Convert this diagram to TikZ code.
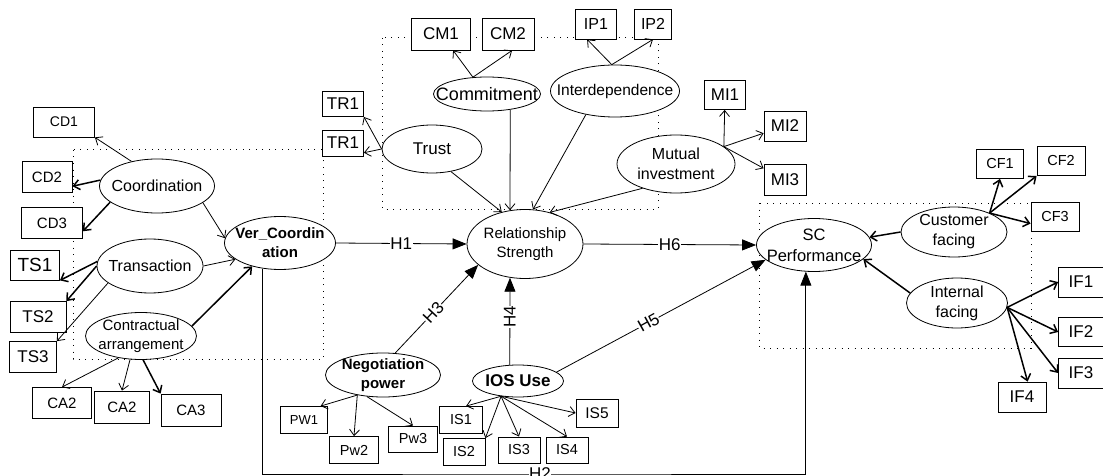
\documentclass[tikz,border=0pt]{standalone}
\usepackage{fontspec}
\setmainfont{Liberation Sans}
\usepackage{tikz}
\usetikzlibrary{shapes.geometric,arrows.meta}
\tikzset{every picture/.style={line width=0.8pt}}
\tikzset{
    fs/.style={font=\fontsize{#1}{#1}\selectfont},
    latent/.style={draw, ellipse, fill=white, inner sep=-16pt, align=center, font=\fontsize{16}{20}\selectfont},
    boldlatent/.style={latent, font=\fontsize{15}{19}\selectfont\bfseries},
    item/.style 2 args={draw, rectangle, fill=white, inner sep=0pt, minimum width=#1pt, minimum height=#2pt, fs=15},
    load/.style={-{Straight Barb[length=6pt,width=10pt]}},
    heavy/.style={line width=1.5pt},
    hyp/.style={-{Triangle[length=14pt,width=11pt]}},
    hlab/.style={fill=white, inner sep=0.4pt, fs=17},
    group/.style={line width=1pt, dash pattern=on 1pt off 5.5pt}
}

\begin{document}
\begin{tikzpicture}[x=1pt,y=1pt,yscale=-1]
    \useasboundingbox (0,0) rectangle (1103,476);
    \draw [group] (73,150) rectangle (323,359);
    \draw [group] (382,38) rectangle (658,209);
    \draw [group] (759,203) rectangle (1031,348);

    \node [latent, minimum width=115pt, minimum height=54pt] (crd) at (157,186) {Coordination};
    \node [latent, minimum width=106pt, minimum height=54pt] (trn) at (150,266) {Transaction};
    \node [latent, font=\fontsize{15}{19}\selectfont, minimum width=111pt, minimum height=47pt] (ctr) at (141,336) {Contractual\\arrangement};
    \node [boldlatent, minimum width=111pt, minimum height=53pt] (ver) at (280,243) {Ver\_Coordin\\ation};
    \node [latent, font=\fontsize{17}{20}\selectfont, minimum width=100pt, minimum height=48pt] (tru) at (432,149) {Trust};
    \node [latent, font=\fontsize{18}{20}\selectfont, minimum width=107pt, minimum height=34pt] (cmt) at (487,94) {Commitment};
    \node [latent, font=\fontsize{15.5}{20}\selectfont, minimum width=129pt, minimum height=52pt] (idp) at (615,91) {Interdependence};
    \node [latent, minimum width=118pt, minimum height=58pt] (mi) at (676,164) {Mutual\\investment};
    \node [latent, font=\fontsize{15}{19}\selectfont, minimum width=116pt, minimum height=69pt] (rs) at (525,244) {Relationship\\Strength};
    \node [boldlatent, minimum width=115pt, minimum height=44pt] (ngp) at (383,375) {Negotiation\\power};
    \node [latent, font=\fontsize{17}{19}\selectfont\bfseries, minimum width=91pt, minimum height=32pt] (ios) at (518,381) {IOS Use};
    \node [latent, font=\fontsize{16.5}{21}\selectfont, minimum width=115pt, minimum height=53pt] (sc) at (814,245) {SC\\Performance};
    \node [latent, minimum width=106pt, minimum height=50pt] (cfc) at (954,232) {Customer\\facing};
    \node [latent, minimum width=101pt, minimum height=50pt] (ift) at (957,303) {Internal\\facing};

    \node [item={61}{30}, fs=14] (cd1) at (64,122) {CD1};
    \node [item={50}{31}] (cd2) at (47,177) {CD2};
    \node [item={61}{31}] (cd3) at (52,223) {CD3};
    \node [item={49}{30}, fs=19] (ts1) at (35,265) {TS1};
    \node [item={56}{31}, fs=17] (ts2) at (38,317) {TS2};
    \node [item={47}{31}, fs=17] (ts3) at (33,357) {TS3};
    \node [item={59}{31}] (ca1) at (62,403) {CA2};
    \node [item={55}{32}] (ca2) at (122,407) {CA2};
    \node [item={60}{32}] (ca3) at (191,410) {CA3};
    \node [item={47}{27}, fs=13] (pw1) at (304,420) {PW1};
    \node [item={49}{27}, fs=14.5] (pw2) at (354,450) {Pw2};
    \node [item={49}{26}, fs=14.5] (pw3) at (413,439) {Pw3};
    \node [item={43}{27}, fs=14.5] (is1) at (461,420) {IS1};
    \node [item={42}{27}, fs=14.5] (is2) at (464,452) {IS2};
    \node [item={42}{26}, fs=14.5] (is3) at (519,450) {IS3};
    \node [item={42}{26}, fs=14.5] (is4) at (567,450) {IS4};
    \node [item={42}{28}, fs=15.5] (is5) at (597,413) {IS5};
    \node [item={41}{25}, fs=17] (tr1a) at (343,104) {TR1};
    \node [item={41}{26}, fs=17] (tr1b) at (343,143) {TR1};
    \node [item={59}{32}, fs=17] (cm1) at (441,34) {CM1};
    \node [item={52}{32}, fs=17] (cm2) at (508,34) {CM2};
    \node [item={41}{30}, fs=16] (ip1) at (596,24) {IP1};
    \node [item={37}{30}, fs=16] (ip2) at (653,24) {IP2};
    \node [item={41}{29}, fs=17] (mi1) at (725,95) {MI1};
    \node [item={42}{30}, fs=17] (mi2) at (785,126) {MI2};
    \node [item={42}{31}, fs=17] (mi3) at (785,180) {MI3};
    \node [item={47}{29}, fs=14.5] (cf1) at (1000,164) {CF1};
    \node [item={48}{29}, fs=14.5] (cf2) at (1061,161) {CF2};
    \node [item={48}{29}, fs=14.5] (cf3) at (1055,217) {CF3};
    \node [item={45}{30}, fs=17] (if1) at (1081,282) {IF1};
    \node [item={45}{29}, fs=17] (if2) at (1081,332) {IF2};
    \node [item={45}{30}, fs=17] (if3) at (1081,373) {IF3};
    \node [item={48}{30}, fs=17] (if4) at (1022,397) {IF4};

    \draw [load] (crd.136) -- (cd1.south east);
    \draw [load, heavy] (crd.174) -- (cd2.-20);
    \draw [load, heavy] (crd.199) -- (cd3.-15);
    \draw [load] (crd.-20) -- (ver.175);
    \draw [load, heavy] (trn.175) -- (ts1.south east);
    \draw [load, heavy] (trn.180) -- (ts2.north east);
    \draw [load] (trn.202) -- (ts3.north east);
    \draw [load] (trn.east) -- (ver.200);
    \draw [load, heavy] (ctr.11) -- (ver.220);
    \draw [load] (ctr.224) -- (ca1.north);
    \draw [load] (ctr.245) -- (ca2.north);
    \draw [load, heavy] (ctr.275) -- (ca3.north west);

    \draw [load] (tru.west) -- (tr1a.south east);
    \draw [load] (tru.west) -- (tr1b.-25);
    \draw [load] (cmt.130) -- (cm1);
    \draw [load] (cmt.130) -- (cm2.-76);
    \draw [load] (idp.97) -- (ip1.-120);
    \draw [load] (idp.97) -- (ip2.south);
    \draw [load] (mi.20) -- (mi1);
    \draw [load] (mi.20) -- (mi2);
    \draw [load] (mi.20) -- (mi3);
    \draw [load] (tru.-50) -- (rs.126);
    \draw [load] (cmt.-34) -- (rs.114);
    \draw [load] (idp.219) -- (rs.77);
    \draw [load] (mi.216) -- (rs.52);

    \draw [load] (ngp.218) -- (pw1.40);
    \draw [load] (ngp.218) -- (pw2.north);
    \draw [load] (ngp.233) -- (pw3.north);
    \draw [load] (ios.222) -- (is1.70);
    \draw [load] (ios.222) -- (is2.north east);
    \draw [load] (ios.222) -- (is3.north);
    \draw [load] (ios.222) -- (is4.north);
    \draw [load] (ios.222) -- (is5.west);

    \draw [load, heavy] (cfc.west) -- (sc.8);
    \draw [load, heavy] (cfc.28) -- (cf1.south);
    \draw [load, heavy] (cfc.28) -- (cf2.south west);
    \draw [load, heavy] (cfc.28) -- (cf3.195);
    \draw [load, heavy] (ift.168) -- (sc.-16);
    \draw [load, heavy] (ift.-5) -- (if1.west);
    \draw [load, heavy] (ift.-5) -- (if2.west);
    \draw [load, heavy] (ift.-5) -- (if3.west);
    \draw [load, heavy] (ift.-5) -- (if4.70);

    \draw [hyp] (ver.east) -- node [hlab, pos=0.5] (h1) {H1} (rs.west);
    \draw [hyp] (ngp.61) -- node [hlab, rotate=47, pos=0.46] (h3) {H3} (rs.204);
    \draw [hyp] (ios.117) -- node [hlab, rotate=90, pos=0.55] (h4) {H4} (rs.246);
    \draw [hyp] (ios.13) -- node [hlab, rotate=29, pos=0.44] (h5) {H5} (sc.197);
    \draw [hyp] (rs.east) -- node [hlab, pos=0.5] (h6) {H6} (sc.west);
    \coordinate (h2) at (540,474);
    \draw [hyp] (ver.236) |- (h2) -| (sc.253);
    \node [hlab] (h2lab) at (h2) {H2};
\end{tikzpicture}
\end{document}
